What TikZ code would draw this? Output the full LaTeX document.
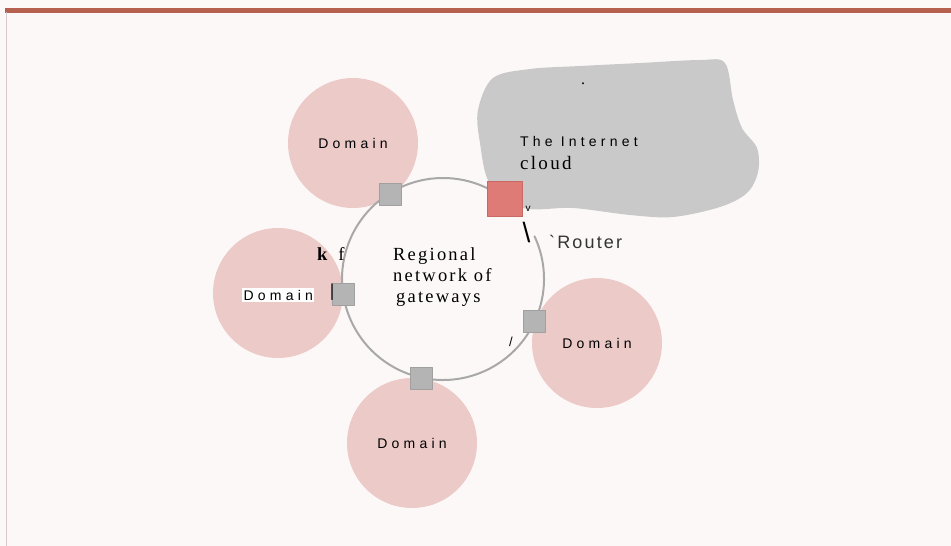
\documentclass[tikz,border=0pt]{standalone}
\usepackage{fontspec}
\setmainfont{Liberation Serif}
\setsansfont{Liberation Sans}
\newfontfamily\spacedsans[LetterSpace=30]{Liberation Sans}
\newfontfamily\spacedserif[LetterSpace=12]{Liberation Serif}
\newfontfamily\routerfont[LetterSpace=12]{Liberation Sans}
\definecolor{pagebg}{RGB}{253,248,248}
\definecolor{barred}{RGB}{182,96,80}
\definecolor{frameline}{RGB}{214,204,204}
\definecolor{domainpink}{RGB}{236,202,200}
\definecolor{cloudgrey}{RGB}{201,201,201}
\definecolor{gategrey}{RGB}{180,180,180}
\definecolor{gateedge}{RGB}{160,160,160}
\definecolor{routerred}{RGB}{222,123,119}
\definecolor{routeredge}{RGB}{200,105,100}
\definecolor{ringgrey}{RGB}{168,168,168}
\definecolor{routertext}{RGB}{51,51,51}
\begin{document}
\begin{tikzpicture}[x=1pt, y=-1pt, line join=round, line cap=round]
	\tikzset{domcircle/.style={circle, fill=domainpink, minimum size=130pt, inner sep=0pt, font=\spacedsans\fontsize{14}{16}\selectfont},
		gateway/.style={draw=gateedge, line width=0.6pt, fill=gategrey, minimum size=22pt, inner sep=0pt},
		router/.style={gateway, draw=routeredge, fill=routerred, minimum size=35pt},
		ringline/.style={draw=ringgrey, line width=2pt},
		lbl/.style={inner sep=0pt}}
	\def\rr{101}
	\useasboundingbox (0,0) rectangle (951,546);
	\fill[pagebg] (0,0) rectangle (951,546);
	\fill[barred] (5,8) rectangle (951,12.5);
	\draw[frameline, line width=0.8pt] (6.5,12.5)--(6.5,546);
	% the cloud
	\fill[cloudgrey] plot[smooth cycle, tension=0.55] coordinates {(493,78) (530,69) (580,66) (640,63) (700,60) (725,63) (733,100) (742,128) (757,148) (758,172) (747,193) (720,207) (673,217) (630,215) (573,208) (523,208) (490,184) (480,143) (478,110)};
	\node[lbl] (dot) at (583,84) {\fontsize{16}{16}\selectfont .};
	% domains
	\foreach \p/\n/\t in {(353,143)/top/Domain, (412,443)/bottom/Domain, (597,343)/right/Domain, (278,293)/left/{}} \node[domcircle] (dom-\n) at \p {\t};
	% ring of gateways
	\coordinate (ringc) at (443,279);
	\draw[ringline] (ringc) ++(-25:\rr) arc[start angle=-25, end angle=315, radius=\rr];
	\foreach \p/\n in {(390,194)/nw, (343,294)/w, (421,378)/s, (534,321)/e} \node[gateway] (gw-\n) at \p {};
	\node[router] (router) at (505,199) {};
	% labels
	\node[lbl, anchor=base west, font=\spacedsans\fontsize{14}{16}\selectfont] (inet) at (520,146) {The Internet};
	\node[lbl, anchor=base west, font=\spacedserif\fontsize{19}{21}\selectfont] (cloudlbl) at (520,169) {cloud};
	\node[lbl, anchor=base west, align=left, font=\spacedserif\fontsize{18.5}{21}\selectfont] (regtxt) at (393,302) {Regional\\network of\\\hspace{3pt}gateways};
	\node[lbl, anchor=base west, font=\fontsize{18.5}{21}\selectfont] (kf) at (317,260) {\textbf{k}\hspace{11pt}f};
	\node[lbl, anchor=base west, fill=white, inner sep=1.5pt, font=\spacedsans\fontsize{14}{16}\selectfont] (domlbl) at (242,300) {Domain};
	\node[lbl, font=\bfseries\fontsize{18}{18}\selectfont] (bar) at (332,292) {|};
	\node[lbl, font=\sffamily\fontsize{10}{10}\selectfont] (vmark) at (528,209) {v};
	\node[lbl, anchor=base, font=\sffamily\fontsize{28}{28}\selectfont] (bslash) at (526.5,242) {\textbackslash};
	\node[lbl, anchor=base west, text=routertext, font=\routerfont\fontsize{18}{20}\selectfont] (rlbl) at (549,248) {`Router};
	\node[lbl, font=\sffamily\fontsize{13}{13}\selectfont] (slash) at (511,342) {/};
\end{tikzpicture}
\end{document}
